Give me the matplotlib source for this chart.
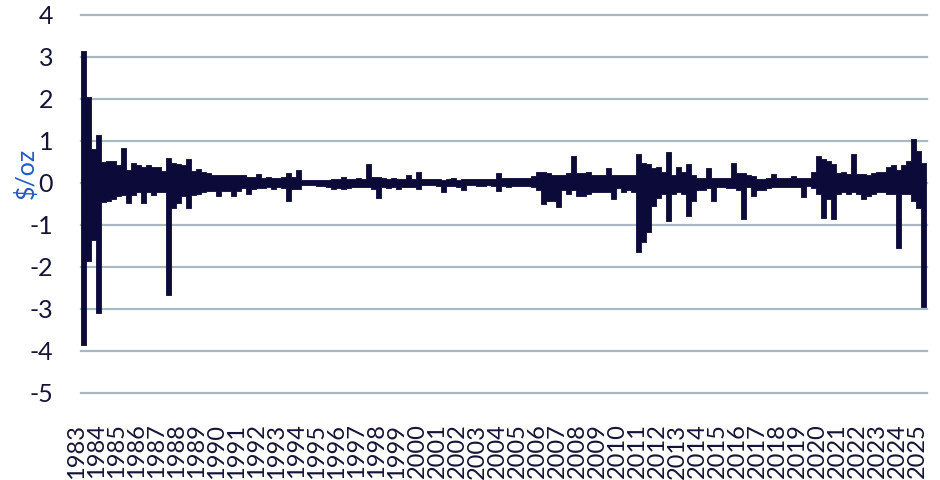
import numpy as np
import matplotlib
matplotlib.use("Agg")
import matplotlib.pyplot as plt
from matplotlib.transforms import ScaledTranslation

plt.rcParams["font.family"] = ["Lato", "DejaVu Sans"]
plt.rcParams["axes.unicode_minus"] = False

start_year = 1983
years = list(range(1983, 2026))
tick_labels = [str(y) for y in years]
y_ticks = list(range(-5, 5))
y_label = "$/oz"

# quarterly upper extremes of the change ($/oz)
q_high = [
    3.15, 2.05, 0.80, 1.14,  # 1983
    0.50, 0.52, 0.52, 0.42,  # 1984
    0.84, 0.30, 0.48, 0.42,  # 1985
    0.38, 0.42, 0.38, 0.38,  # 1986
    0.28, 0.60, 0.48, 0.45,  # 1987
    0.42, 0.58, 0.28, 0.33,  # 1988
    0.27, 0.25, 0.20, 0.18,  # 1989
    0.20, 0.18, 0.20, 0.20,  # 1990
    0.18, 0.15, 0.15, 0.22,  # 1991
    0.12, 0.15, 0.12, 0.12,  # 1992
    0.15, 0.24, 0.15, 0.30,  # 1993
    0.08, 0.07, 0.07, 0.07,  # 1994
    0.07, 0.08, 0.10, 0.10,  # 1995
    0.15, 0.10, 0.10, 0.12,  # 1996
    0.10, 0.45, 0.15, 0.15,  # 1997
    0.12, 0.10, 0.12, 0.10,  # 1998
    0.10, 0.18, 0.10, 0.27,  # 1999
    0.10, 0.09, 0.09, 0.09,  # 2000
    0.08, 0.09, 0.12, 0.08,  # 2001
    0.09, 0.09, 0.09, 0.09,  # 2002
    0.09, 0.09, 0.10, 0.23,  # 2003
    0.13, 0.12, 0.12, 0.13,  # 2004
    0.12, 0.13, 0.16, 0.27,  # 2005
    0.27, 0.24, 0.20, 0.18,  # 2006
    0.18, 0.24, 0.64, 0.24,  # 2007
    0.24, 0.27, 0.20, 0.20,  # 2008
    0.20, 0.35, 0.18, 0.20,  # 2009
    0.20, 0.20, 0.20, 0.68,  # 2010
    0.47, 0.45, 0.35, 0.37,  # 2011
    0.27, 0.73, 0.18, 0.37,  # 2012
    0.27, 0.45, 0.18, 0.13,  # 2013
    0.13, 0.35, 0.13, 0.12,  # 2014
    0.12, 0.12, 0.47, 0.24,  # 2015
    0.24, 0.20, 0.17, 0.10,  # 2016
    0.10, 0.12, 0.22, 0.12,  # 2017
    0.12, 0.12, 0.17, 0.12,  # 2018
    0.12, 0.12, 0.27, 0.64,  # 2019
    0.57, 0.52, 0.45, 0.24,  # 2020
    0.27, 0.22, 0.68, 0.22,  # 2021
    0.22, 0.18, 0.25, 0.27,  # 2022
    0.27, 0.37, 0.42, 0.32,  # 2023
    0.42, 0.52, 1.05, 0.77,  # 2024
    0.47,                    # 2025
]

# quarterly lower extremes of the change ($/oz)
q_low = [
    -3.85, -1.85, -1.35, -3.10,  # 1983
    -0.45, -0.42, -0.38, -0.32,  # 1984
    -0.28, -0.48, -0.28, -0.22,  # 1985
    -0.48, -0.22, -0.28, -0.22,  # 1986
    -0.22, -2.67, -0.60, -0.48,  # 1987
    -0.30, -0.60, -0.28, -0.25,  # 1988
    -0.22, -0.18, -0.18, -0.30,  # 1989
    -0.18, -0.18, -0.30, -0.18,  # 1990
    -0.12, -0.27, -0.15, -0.12,  # 1991
    -0.12, -0.10, -0.15, -0.10,  # 1992
    -0.12, -0.42, -0.15, -0.15,  # 1993
    -0.04, -0.04, -0.05, -0.06,  # 1994
    -0.07, -0.10, -0.15, -0.12,  # 1995
    -0.15, -0.12, -0.10, -0.10,  # 1996
    -0.10, -0.10, -0.15, -0.35,  # 1997
    -0.10, -0.12, -0.10, -0.15,  # 1998
    -0.10, -0.10, -0.10, -0.15,  # 1999
    -0.04, -0.04, -0.05, -0.07,  # 2000
    -0.22, -0.07, -0.06, -0.10,  # 2001
    -0.17, -0.05, -0.05, -0.06,  # 2002
    -0.06, -0.05, -0.06, -0.20,  # 2003
    -0.07, -0.09, -0.06, -0.07,  # 2004
    -0.07, -0.06, -0.10, -0.17,  # 2005
    -0.50, -0.42, -0.42, -0.57,  # 2006
    -0.17, -0.27, -0.17, -0.30,  # 2007
    -0.30, -0.27, -0.22, -0.22,  # 2008
    -0.22, -0.22, -0.37, -0.12,  # 2009
    -0.22, -0.17, -0.22, -1.65,  # 2010
    -1.40, -1.17, -0.55, -0.35,  # 2011
    -0.27, -0.90, -0.27, -0.22,  # 2012
    -0.27, -0.78, -0.42, -0.17,  # 2013
    -0.17, -0.12, -0.42, -0.10,  # 2014
    -0.10, -0.12, -0.12, -0.17,  # 2015
    -0.86, -0.10, -0.30, -0.17,  # 2016
    -0.17, -0.12, -0.10, -0.10,  # 2017
    -0.10, -0.10, -0.10, -0.10,  # 2018
    -0.33, -0.08, -0.12, -0.27,  # 2019
    -0.84, -0.37, -0.86, -0.25,  # 2020
    -0.22, -0.25, -0.22, -0.27,  # 2021
    -0.37, -0.32, -0.27, -0.22,  # 2022
    -0.22, -0.27, -0.27, -1.54,  # 2023
    -0.27, -0.27, -0.42, -0.60,  # 2024
    -2.96,                       # 2025
]

# quarter boundaries on a fractional-year axis
n = len(q_high)
edges = start_year + np.arange(n + 1) / 4.0
high_s = np.append(q_high, q_high[-1])
low_s = np.append(q_low, q_low[-1])

W, H = 940, 480
fig = plt.figure(figsize=(W / 100, H / 100), dpi=100)
ax = fig.add_axes([81 / W, 1 - 393 / H, 846 / W, 378 / H])

line_color = "#0b0a38"
text_color = "#141436"

ax.fill_between(edges, low_s, high_s, step="post", facecolor=line_color,
                edgecolor=line_color, lw=0.6, zorder=3)

ax.set_xlim(start_year, start_year + 846 / 20)
ax.set_ylim(min(y_ticks), max(y_ticks))
ax.set_yticks(y_ticks)
ax.set_yticklabels([str(y) for y in y_ticks])
ax.set_xticks(years)
ax.set_xticklabels(tick_labels, rotation=90)

ax.grid(axis="y", color="#aab7c4", lw=1.6)
ax.grid(axis="x", visible=False)
ax.set_axisbelow(True)
for gl in ax.get_ygridlines():
    gl.set_clip_on(False)
for s in ax.spines.values():
    s.set_visible(False)

ax.tick_params(axis="y", length=0, labelsize=18, labelcolor=text_color, pad=20)
ax.tick_params(axis="x", length=0, labelsize=17, labelcolor=text_color, pad=22)

offset = ScaledTranslation(-4 / 100, 0, fig.dpi_scale_trans)
for lab in ax.get_xticklabels():
    lab.set_transform(lab.get_transform() + offset)

ax.set_ylabel(y_label, color="#215bc4", fontsize=18)
ax.yaxis.set_label_coords(-0.065, 0.582)
ax.yaxis.label.set_verticalalignment("center")

fig.savefig("out.png", dpi=100)
